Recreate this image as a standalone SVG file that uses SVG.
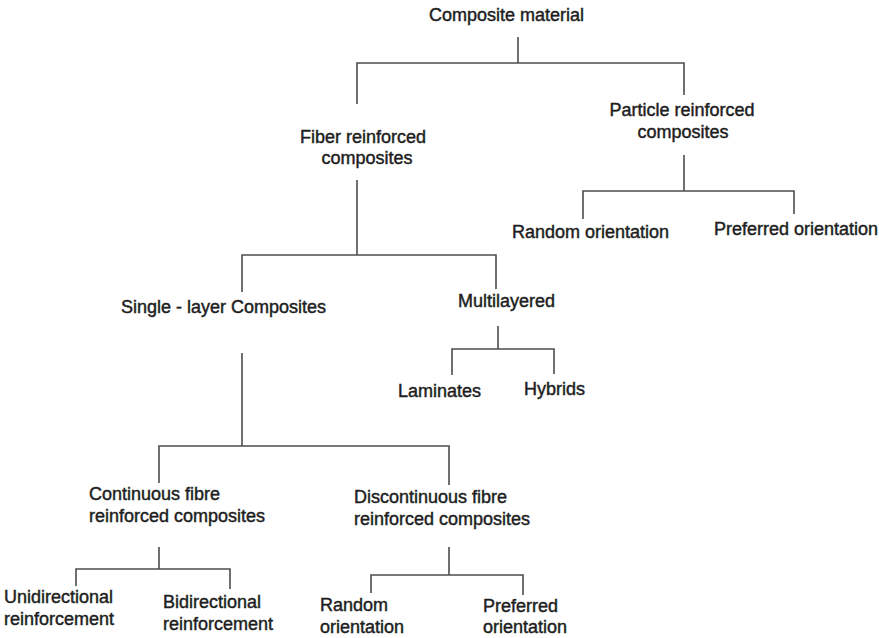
<svg xmlns="http://www.w3.org/2000/svg" width="879" height="638" viewBox="0 0 879 638">
<style>
  text { font-family: "Liberation Sans", Arial, sans-serif; font-size: 18px; fill: #1e1e1e; stroke: #1e1e1e; stroke-width: 0.45; }
  .c { fill: none; stroke: #4d4d4d; stroke-width: 1.6; }
</style>
<rect width="879" height="638" fill="#fff"/>
<g id="connectors">
  <path class="c" d="M518 37 V63 M357 104 V63 H684 V95"/>
  <path class="c" d="M684 155 V191 M583 219 V191 H794 V214"/>
  <path class="c" d="M357 180 V255 M242 292 V255 H496 V289"/>
  <path class="c" d="M498 326 V349 M452 375 V349 H554 V374"/>
  <path class="c" d="M242 353 V446 M159 483 V446 H449 V485"/>
  <path class="c" d="M159 547 V569 M76 586 V569 H230 V589"/>
  <path class="c" d="M449 547 V575 M371 593 V575 H523 V595"/>
</g>
<g id="composite-material"><text x="429" y="21">Composite material</text></g>
<g id="particle-reinforced"><text x="682" y="116" text-anchor="middle">Particle reinforced</text><text x="683" y="138" text-anchor="middle">composites</text></g>
<g id="fiber-reinforced"><text x="363" y="143" text-anchor="middle">Fiber reinforced</text><text x="367" y="164" text-anchor="middle">composites</text></g>
<g id="random-orientation-p"><text x="512" y="238">Random orientation</text></g>
<g id="preferred-orientation-p"><text x="714" y="235">Preferred orientation</text></g>
<g id="single-layer"><text x="121" y="313">Single - layer Composites</text></g>
<g id="multilayered"><text x="458" y="307">Multilayered</text></g>
<g id="laminates"><text x="398" y="397">Laminates</text></g>
<g id="hybrids"><text x="524" y="395">Hybrids</text></g>
<g id="continuous"><text x="89" y="500">Continuous fibre</text><text x="89" y="522">reinforced composites</text></g>
<g id="discontinuous"><text x="354" y="503">Discontinuous fibre</text><text x="354" y="525">reinforced composites</text></g>
<g id="unidirectional"><text x="4" y="603">Unidirectional</text><text x="4" y="625">reinforcement</text></g>
<g id="bidirectional"><text x="163" y="608">Bidirectional</text><text x="163" y="630">reinforcement</text></g>
<g id="random-orientation-d"><text x="320" y="611">Random</text><text x="320" y="633">orientation</text></g>
<g id="preferred-orientation-d"><text x="483" y="612">Preferred</text><text x="483" y="633">orientation</text></g>
</svg>
